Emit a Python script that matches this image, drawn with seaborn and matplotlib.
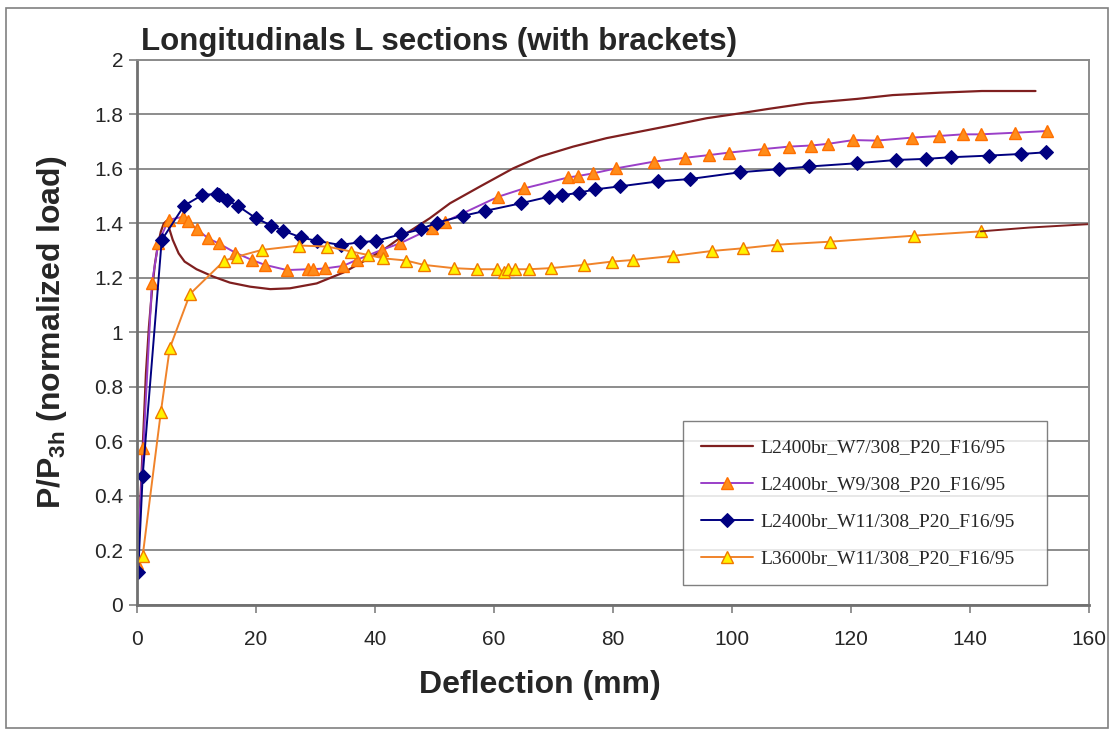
import matplotlib
matplotlib.use("Agg")
import matplotlib.pyplot as plt
import seaborn as sns
import numpy as np
import pandas as pd
from matplotlib.patches import Rectangle

# ---- data ----
w7_x = [0, 0.5, 1, 1.5, 2, 2.5, 3, 3.5, 4, 4.5, 5, 6, 7, 8, 10, 12.8, 15.6, 19, 22.4, 25.7,
        30.2, 34.7, 38, 41.4, 45.3, 49.2, 52.6, 57.6, 63.2, 67.7, 73.3, 78.9, 84.5, 90.1,
        95.7, 101.3, 106, 112.6, 121, 127, 135, 142, 151]
w7_y = [0.1, 0.35, 0.6, 0.85, 1.02, 1.15, 1.25, 1.32, 1.37, 1.40, 1.41, 1.34, 1.29, 1.26,
        1.232, 1.205, 1.183, 1.168, 1.159, 1.162, 1.18, 1.22, 1.26, 1.303, 1.364, 1.419,
        1.474, 1.535, 1.602, 1.645, 1.682, 1.713, 1.737, 1.761, 1.786, 1.804, 1.82, 1.841,
        1.857, 1.871, 1.88, 1.886, 1.886]

w9_x = [0, 1.06, 2.5, 3.6, 5.3, 7.8, 8.6, 10, 12, 13.7, 16.5, 19.3, 21.5, 25.2, 28.8, 29.6,
        31.6, 34.6, 36.9, 41.1, 44.2, 49.5, 51.8, 60.7, 65.1, 72.5, 74.1, 76.7, 80.5, 86.9,
        92.1, 96.2, 99.5, 105.3, 109.6, 113.3, 116.1, 120.4, 124.3, 130.3, 134.8, 138.8,
        141.8, 147.6, 152.9]
w9_y = [0.153, 0.575, 1.18, 1.33, 1.413, 1.425, 1.41, 1.379, 1.345, 1.327, 1.293, 1.266,
        1.248, 1.229, 1.232, 1.232, 1.235, 1.244, 1.266, 1.303, 1.327, 1.382, 1.407, 1.498,
        1.529, 1.569, 1.574, 1.584, 1.602, 1.627, 1.641, 1.651, 1.66, 1.673, 1.682, 1.686,
        1.692, 1.706, 1.704, 1.715, 1.721, 1.727, 1.727, 1.733, 1.739]

w11_x = [0.2, 0.95, 4.15, 7.9, 11, 13.4, 13.8, 15.1, 16.9, 20, 22.6, 24.5, 27.5, 30.2, 34.2,
         37.4, 40.2, 44.3, 47.7, 50.4, 54.8, 58.5, 64.5, 69.2, 71.4, 74.3, 77, 81.1, 87.5,
         92.9, 101.4, 107.9, 113, 121, 127.6, 132.6, 136.8, 143.2, 148.6, 152.7]
w11_y = [0.122, 0.474, 1.339, 1.465, 1.505, 1.508, 1.505, 1.486, 1.465, 1.419, 1.392, 1.374,
         1.349, 1.336, 1.321, 1.331, 1.336, 1.36, 1.379, 1.403, 1.428, 1.446, 1.474, 1.498,
         1.503, 1.513, 1.525, 1.536, 1.554, 1.563, 1.588, 1.599, 1.609, 1.621, 1.633, 1.637,
         1.643, 1.649, 1.655, 1.661]

l36_x = [0.95, 4, 5.5, 8.9, 14.7, 16.8, 21, 27.3, 32, 36, 38.9, 41.4, 45.2, 48.2, 53.2, 57.1,
         60.5, 61.7, 62.4, 63.5, 65.9, 69.5, 75.2, 79.8, 83.4, 90.1, 96.6, 101.9, 107.5,
         116.4, 130.5, 141.8]
l36_y = [0.18, 0.707, 0.942, 1.141, 1.264, 1.278, 1.303, 1.319, 1.315, 1.297, 1.284, 1.272,
         1.264, 1.248, 1.236, 1.232, 1.232, 1.223, 1.232, 1.232, 1.232, 1.236, 1.248, 1.26,
         1.266, 1.281, 1.299, 1.309, 1.322, 1.333, 1.355, 1.371]
tail_x = [141.8, 150, 162]
tail_y = [1.371, 1.385, 1.40]

labels = ["L2400br_W7/308_P20_F16/95", "L2400br_W9/308_P20_F16/95",
          "L2400br_W11/308_P20_F16/95", "L3600br_W11/308_P20_F16/95"]
title = "Longitudinals L sections (with brackets)"
xlabel = "Deflection (mm)"
ylabel = r"P/P$_{3h}$ (normalized load)"
xticks = [0, 20, 40, 60, 80, 100, 120, 140, 160]
yticks = [0, 0.2, 0.4, 0.6, 0.8, 1, 1.2, 1.4, 1.6, 1.8, 2]

# ---- style ----
sns.set_style("white")
plt.rcParams['font.family'] = ['Liberation Sans', 'DejaVu Sans']
plt.rcParams['mathtext.fontset'] = 'custom'
plt.rcParams['mathtext.rm'] = 'Liberation Sans:bold'
plt.rcParams['mathtext.it'] = 'Liberation Sans:bold'
plt.rcParams['mathtext.bf'] = 'Liberation Sans:bold'

fig = plt.figure(figsize=(11.14, 7.31), dpi=100)
ax = fig.add_axes([0.123, 0.1724, 0.8546, 0.7456])

c_w7 = "#7F1F1F"
c_w9 = "#9A3FC8"
c_w11 = "#000080"
c_l36 = "#F0832A"

sns.lineplot(x=w7_x, y=w7_y, ax=ax, color=c_w7, lw=1.6, sort=False, estimator=None,
             label=labels[0])
sns.lineplot(x=w9_x, y=w9_y, ax=ax, color=c_w9, lw=1.4, sort=False, estimator=None,
             marker="^", markersize=9, markerfacecolor="#FF8C1A", markeredgecolor="#FF7000",
             markeredgewidth=1.0, label=labels[1])
sns.lineplot(x=w11_x, y=w11_y, ax=ax, color=c_w11, lw=1.4, sort=False, estimator=None,
             marker="D", markersize=7, markerfacecolor=c_w11, markeredgecolor=c_w11,
             label=labels[2])
sns.lineplot(x=l36_x, y=l36_y, ax=ax, color=c_l36, lw=1.4, sort=False, estimator=None,
             marker="^", markersize=9, markerfacecolor="#FFF200", markeredgecolor="#F07800",
             markeredgewidth=1.0, label=labels[3])
sns.lineplot(x=tail_x, y=tail_y, ax=ax, color=c_w7, lw=1.4, sort=False, estimator=None,
             legend=False)

ax.set_xlim(0, 160)
ax.set_ylim(0, 2)
ax.set_xticks(xticks)
ax.set_yticks(yticks)
ax.set_yticklabels([f"{v:g}" for v in yticks])
ax.tick_params(axis='both', labelsize=15, direction='out', length=6, color="#808080",
               width=1.2, left=True, bottom=True, pad=4)
ax.tick_params(axis='x', pad=12)
ax.yaxis.grid(True, color="#8C8C8C", lw=1.4)
ax.xaxis.grid(False)
ax.set_axisbelow(True)
for s in ax.spines.values():
    s.set_color("#8C8C8C")
    s.set_linewidth(1.4)
ax.spines['left'].set_color("#707070")
ax.spines['bottom'].set_color("#707070")
ax.spines['left'].set_linewidth(2)
ax.spines['bottom'].set_linewidth(2)

ax.set_xlabel(xlabel, fontsize=23, fontweight='bold')
ax.xaxis.set_label_coords(0.423, -0.12)
ax.set_ylabel(ylabel, fontsize=23, fontweight='bold', labelpad=18)

fig.text(0.127, 0.932, title, fontsize=22.5, fontweight='bold', ha='left', va='baseline')

leg = ax.legend(loc='lower left', bbox_to_anchor=(0.5735, 0.0367, 0.3825, 0.302),
                mode='expand', borderaxespad=0, frameon=True, fancybox=False,
                prop={'family': ['Liberation Serif', 'DejaVu Serif'], 'size': 14},
                labelspacing=1.0, handlelength=2.7, handletextpad=0.4, borderpad=0.9)
leg.get_frame().set_edgecolor("#606060")
leg.get_frame().set_linewidth(1.0)

fig.patches.append(Rectangle((0.0054, 0.004), 0.989, 0.985, transform=fig.transFigure,
                             fill=False, edgecolor="#808080", lw=1.2))

fig.savefig("out.png", dpi=100)
